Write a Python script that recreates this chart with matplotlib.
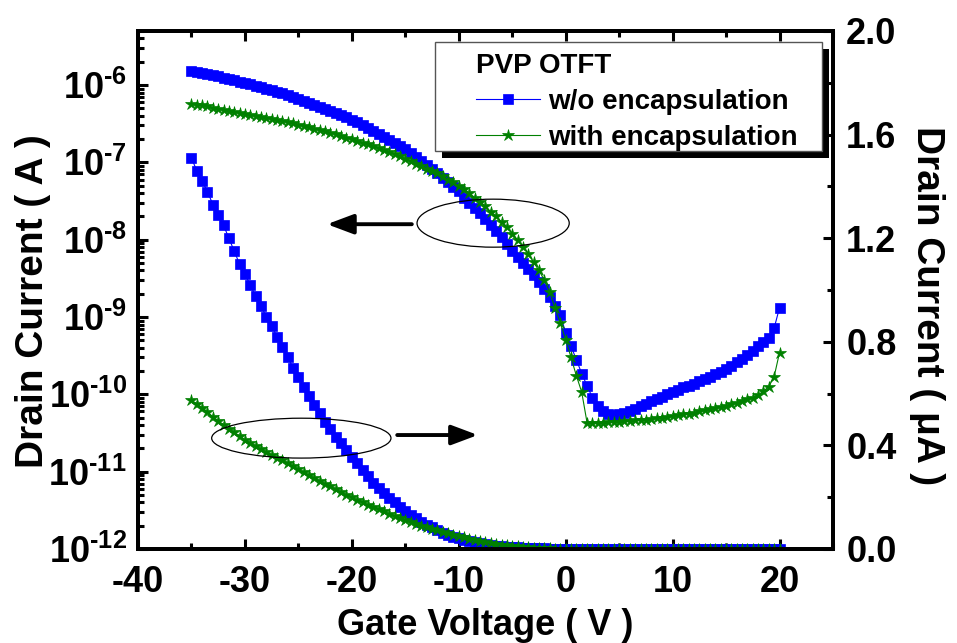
import numpy as np
import matplotlib.pyplot as plt
from matplotlib.patches import Ellipse, Rectangle
from matplotlib.ticker import MultipleLocator, LogLocator, FuncFormatter, NullFormatter, FormatStrFormatter

plt.rcParams['font.family'] = ['Liberation Sans', 'DejaVu Sans']
plt.rcParams['font.weight'] = 'bold'
plt.rcParams['axes.labelweight'] = 'bold'
plt.rcParams['mathtext.fontset'] = 'custom'
plt.rcParams['mathtext.rm'] = 'Liberation Sans:bold'
plt.rcParams['mathtext.bf'] = 'Liberation Sans:bold'
plt.rcParams['axes.unicode_minus'] = False

# gate sweep -35 V .. 20 V, 0.5 V step
gate_v = np.arange(-35, 20.01, 0.5)

# drain current (A), PVP OTFT without encapsulation
i_wo = [
    1.51e-6, 1.46e-6, 1.42e-6, 1.38e-6, 1.33e-6, 1.29e-6, 1.25e-6, 1.20e-6, 1.15e-6, 1.10e-6,   # -35 .. -30.5
    1.06e-6, 1.02e-6, 9.75e-7, 9.4e-7, 8.95e-7, 8.6e-7, 8.2e-7, 7.8e-7, 7.4e-7, 7.0e-7,        # -30 .. -25.5
    6.63e-7, 6.27e-7, 5.91e-7, 5.56e-7, 5.24e-7, 4.92e-7, 4.62e-7, 4.34e-7, 4.08e-7, 3.82e-7,   # -25 .. -20.5
    3.56e-7, 3.31e-7, 3.05e-7, 2.8e-7, 2.56e-7, 2.35e-7, 2.15e-7, 1.96e-7, 1.8e-7, 1.63e-7,     # -20 .. -15.5
    1.47e-7, 1.32e-7, 1.18e-7, 1.05e-7, 9.3e-8, 8.3e-8, 7.2e-8, 6.3e-8, 5.5e-8, 4.8e-8,         # -15 .. -10.5
    4.2e-8, 3.5e-8, 3.0e-8, 2.6e-8, 2.2e-8, 1.86e-8, 1.55e-8, 1.29e-8, 1.07e-8, 8.7e-9,        # -10 .. -5.5
    7.2e-9, 6.0e-9, 5.0e-9, 4.2e-9, 3.5e-9, 2.8e-9, 2.3e-9, 1.8e-9, 1.4e-9, 1.05e-9,           # -5 .. -0.5
    6.3e-10, 4.2e-10, 2.8e-10, 1.86e-10, 1.29e-10, 9.1e-11, 7.1e-11, 6.0e-11, 5.5e-11, 5.4e-11,  # 0 .. 4.5
    5.5e-11, 5.8e-11, 6.0e-11, 6.5e-11, 7.1e-11, 7.6e-11, 8.1e-11, 8.7e-11, 9.3e-11, 1.0e-10,  # 5 .. 9.5
    1.07e-10, 1.15e-10, 1.23e-10, 1.29e-10, 1.38e-10, 1.48e-10, 1.58e-10, 1.70e-10, 1.82e-10, 1.95e-10,  # 10 .. 14.5
    2.14e-10, 2.34e-10, 2.63e-10, 2.88e-10, 3.24e-10, 3.63e-10, 4.17e-10, 4.79e-10, 5.37e-10, 7.2e-10,   # 15 .. 19.5
    1.32e-9,                                                                                    # 20
]

# drain current (A), with encapsulation
i_with = [
    5.75e-7, 5.6e-7, 5.45e-7, 5.3e-7, 5.1e-7, 4.95e-7, 4.8e-7, 4.65e-7, 4.5e-7, 4.35e-7,
    4.22e-7, 4.1e-7, 3.98e-7, 3.86e-7, 3.75e-7, 3.64e-7, 3.53e-7, 3.43e-7, 3.32e-7, 3.2e-7,
    3.08e-7, 2.96e-7, 2.84e-7, 2.74e-7, 2.63e-7, 2.52e-7, 2.42e-7, 2.31e-7, 2.2e-7, 2.09e-7,
    1.99e-7, 1.89e-7, 1.8e-7, 1.71e-7, 1.62e-7, 1.53e-7, 1.45e-7, 1.36e-7, 1.28e-7, 1.2e-7,
    1.12e-7, 1.04e-7, 9.6e-8, 8.9e-8, 8.3e-8, 7.8e-8, 7.2e-8, 6.6e-8, 6.0e-8, 5.5e-8,
    5.0e-8, 4.5e-8, 4.0e-8, 3.5e-8, 3.1e-8, 2.7e-8, 2.3e-8, 2.0e-8, 1.7e-8, 1.45e-8,
    1.2e-8, 1.0e-8, 8.1e-9, 6.6e-9, 5.1e-9, 4.0e-9, 3.0e-9, 2.1e-9, 1.32e-9, 8.3e-10,
    5.1e-10, 3.0e-10, 1.74e-10, 1.07e-10, 4.3e-11, 4.3e-11, 4.3e-11, 4.3e-11, 4.4e-11, 4.4e-11,
    4.4e-11, 4.5e-11, 4.5e-11, 4.6e-11, 4.7e-11, 4.7e-11, 4.8e-11, 4.9e-11, 5.0e-11, 5.1e-11,
    5.2e-11, 5.4e-11, 5.5e-11, 5.6e-11, 5.8e-11, 6.0e-11, 6.2e-11, 6.5e-11, 6.6e-11, 6.9e-11,
    7.1e-11, 7.4e-11, 7.8e-11, 8.3e-11, 8.7e-11, 9.1e-11, 9.8e-11, 1.1e-10, 1.26e-10, 1.7e-10,
    3.47e-10,
]

series_labels = ['w/o encapsulation', 'with encapsulation']
legend_title = 'PVP OTFT'
BLUE = '#0000ff'
GREEN = '#008000'

fig = plt.figure(figsize=(9.57, 6.43), dpi=100)
ax = fig.add_axes([0.1442, 0.1462, 0.7262, 0.8056])
ax2 = ax.twinx()

sq = dict(color=BLUE, ms=7, lw=0.8, mec=BLUE, mew=0.5)
st = dict(color=GREEN, ms=9, lw=0.8, mec=GREEN, mew=0.5)

# log scale (left axis)
l1, = ax.semilogy(gate_v, i_wo, 's-', **sq)
l2, = ax.semilogy(gate_v, i_with, '*-', **st)

# linear scale (right axis, uA)
ax2.plot(gate_v, np.array(i_wo) * 1e6, 's-', **sq)
ax2.plot(gate_v, np.array(i_with) * 1e6, '*-', **st)

ax.set_xlim(-40, 25)
ax.set_ylim(1e-12, 5e-6)
ax2.set_ylim(0, 2.0)


def pow_label(v, pos):
    # short hyphen in the exponent, like the original
    return r'$\mathbf{10^{\text{-%d}}}$' % abs(round(np.log10(v)))


ax.xaxis.set_major_locator(MultipleLocator(10))
ax.xaxis.set_minor_locator(MultipleLocator(5))
ax.yaxis.set_major_locator(LogLocator(base=10, numticks=20))
ax.yaxis.set_minor_locator(LogLocator(base=10, subs=np.arange(2, 10), numticks=20))
ax.yaxis.set_minor_formatter(NullFormatter())
ax.yaxis.set_major_formatter(FuncFormatter(pow_label))

ax2.yaxis.set_major_locator(MultipleLocator(0.4))
ax2.yaxis.set_minor_locator(MultipleLocator(0.2))
ax2.yaxis.set_major_formatter(FormatStrFormatter('%.1f'))

ax.tick_params(which='both', direction='in', top=True, right=False, width=2.2, labelsize=26)
ax.tick_params(which='major', length=7)
ax.tick_params(which='minor', length=4)
ax.tick_params(axis='x', pad=11.5)
ax.tick_params(axis='y', pad=8)
ax2.tick_params(which='both', direction='in', width=2.2, labelsize=26, pad=9.5)
ax2.tick_params(which='major', length=7)
ax2.tick_params(which='minor', length=4)

for a in (ax, ax2):
    for s in a.spines.values():
        s.set_linewidth(2.8)

ax.set_xlabel('Gate Voltage ( V )', fontsize=26, fontweight='bold')
ax.xaxis.set_label_coords(0.5, -0.1135)
ax.set_ylabel('Drain Current ( A )', fontsize=28, fontweight='bold')
ax.yaxis.set_label_coords(-0.1246, 0.479)
ax2.set_ylabel('Drain Current ( \u03bcA )', fontsize=28, fontweight='bold', rotation=270, va='bottom')
ax2.yaxis.set_label_coords(1.109, 0.469)

# legend with a hard black shadow
shadow = Rectangle((0.4374, 0.7548), 0.5569, 0.2105, transform=ax2.transAxes,
                   facecolor='black', edgecolor='none', clip_on=False, zorder=8)
frame = Rectangle((0.4273, 0.7683), 0.5569, 0.2105, transform=ax2.transAxes,
                  facecolor='white', edgecolor='#555555', lw=1, clip_on=False, zorder=9)
ax2.add_patch(shadow)
ax2.add_patch(frame)
leg = ax2.legend([l1, l2], series_labels, title=legend_title, loc='upper left',
                 bbox_to_anchor=(0.4863, 0.9575), frameon=False, fontsize=20,
                 title_fontsize=20, alignment='left', borderpad=0, borderaxespad=0,
                 handlelength=2.3, handletextpad=0.3, labelspacing=0.36)
leg.set_zorder(10)

# ellipses + arrows pointing at the matching axis
ax2.add_patch(Ellipse((0.511, 0.629), 0.219, 0.0927, transform=ax2.transAxes,
                      fill=False, ec='black', lw=0.9, zorder=7))
ax2.add_patch(Ellipse((0.235, 0.214), 0.258, 0.077, transform=ax2.transAxes,
                      fill=False, ec='black', lw=0.9, zorder=7))
arrow_props = dict(arrowstyle='-|>,head_length=0.8,head_width=0.3', lw=2.8, color='black',
                   mutation_scale=20, shrinkA=0, shrinkB=0)
ax2.annotate('', xy=(0.272, 0.627), xytext=(0.394, 0.627), xycoords='axes fraction',
             arrowprops=arrow_props)
ax2.annotate('', xy=(0.489, 0.220), xytext=(0.373, 0.220), xycoords='axes fraction',
             arrowprops=arrow_props)

fig.savefig('out.png', dpi=100)
